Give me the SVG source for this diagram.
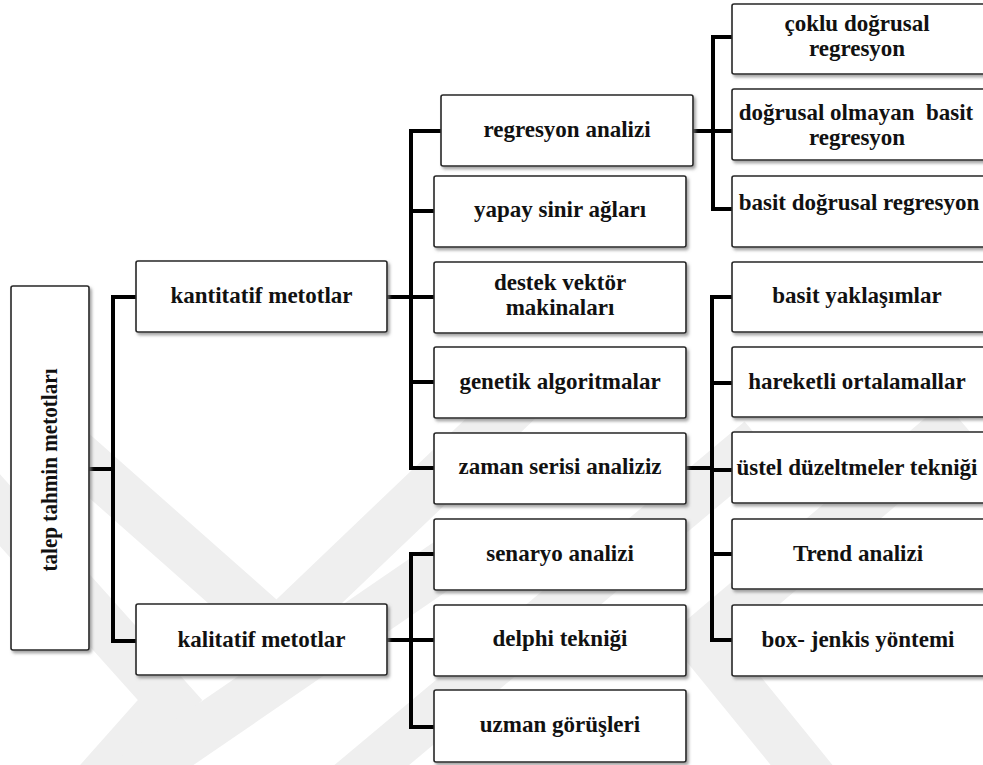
<svg xmlns="http://www.w3.org/2000/svg" width="983" height="765" viewBox="0 0 983 765">
<defs>
<filter id="sh" x="-10%" y="-10%" width="130%" height="140%">
<feDropShadow dx="2" dy="2.5" stdDeviation="1.5" flood-color="#7a7a7a" flood-opacity="0.7"/>
</filter>
<style>
.box{fill:#fff;stroke:#262626;stroke-width:1.6;filter:url(#sh)}
.t{font-family:"Liberation Serif","Times New Roman",serif;font-weight:bold;font-size:23px;fill:#111;text-anchor:middle}
.c{fill:none;stroke:#000;stroke-width:4;stroke-linejoin:miter;stroke-linecap:butt}
.wm{fill:none;stroke:#efefef;stroke-width:48;stroke-linejoin:miter}
</style>
</defs>
<rect width="983" height="765" fill="#fff"/>
<g id="watermark">
<polyline class="wm" points="60,440 277,632 520,400"/>
<polyline class="wm" points="-20,488 170,700 90,790"/>
<polyline class="wm" points="100,800 450,560"/>
<polyline class="wm" points="330,800 760,440"/>
<polyline class="wm" points="960,420 700,640 830,800"/>
</g>
<g id="connectors">
<path class="c" d="M89,469H113M113,297V641M111,297H136M111,641H136"/>
<path class="c" d="M387,297H411M411,129V470M409,131H441M409,211H434M409,297H434M409,382H434M409,468H434"/>
<path class="c" d="M387,640H411M411,552V729M409,554H434M409,640H434M409,727H434"/>
<path class="c" d="M693,131H713M713,35V211M711,37H732M711,131H732M711,209H732"/>
<path class="c" d="M686,468H712M712,295V642M710,297H732M710,383H732M710,470H732M710,554H732M710,640H732"/>
</g>
<g id="n-root"><rect class="box" x="11" y="286" width="78" height="364" rx="2"/><text class="t" x="57" y="470" font-size="18" textLength="203" lengthAdjust="spacingAndGlyphs" transform="rotate(-90 57 470)">talep tahmin metotları</text></g>
<g id="n-kantitatif"><rect class="box" x="136" y="261" width="251" height="71" rx="2"/><text class="t" x="261.5" y="303">kantitatif metotlar</text></g>
<g id="n-kalitatif"><rect class="box" x="136" y="604" width="251" height="71" rx="2"/><text class="t" x="261.5" y="647">kalitatif metotlar</text></g>
<g id="n-regresyon"><rect class="box" x="441" y="95" width="252" height="71" rx="2"/><text class="t" x="567" y="137">regresyon analizi</text></g>
<g id="n-yapay"><rect class="box" x="434" y="176" width="252" height="71" rx="2"/><text class="t" x="560" y="217">yapay sinir ağları</text></g>
<g id="n-destek"><rect class="box" x="434" y="262" width="252" height="71" rx="2"/><text class="t" x="560" y="290">destek vektör</text><text class="t" x="560" y="315">makinaları</text></g>
<g id="n-genetik"><rect class="box" x="434" y="347" width="252" height="71" rx="2"/><text class="t" x="560" y="389">genetik algoritmalar</text></g>
<g id="n-zaman"><rect class="box" x="434" y="433" width="252" height="71" rx="2"/><text class="t" x="560" y="474">zaman serisi analiziz</text></g>
<g id="n-senaryo"><rect class="box" x="434" y="519" width="252" height="71" rx="2"/><text class="t" x="560" y="561">senaryo analizi</text></g>
<g id="n-delphi"><rect class="box" x="434" y="605" width="252" height="71" rx="2"/><text class="t" x="560" y="646">delphi tekniği</text></g>
<g id="n-uzman"><rect class="box" x="434" y="690" width="252" height="72" rx="2"/><text class="t" x="560" y="732">uzman görüşleri</text></g>
<g id="n-coklu"><rect class="box" x="732" y="4" width="256" height="70" rx="2"/><text class="t" x="857" y="31">çoklu doğrusal</text><text class="t" x="857" y="56">regresyon</text></g>
<g id="n-dogrusal-olmayan"><rect class="box" x="732" y="89" width="256" height="71" rx="2"/><text class="t" x="856" y="120" xml:space="preserve">doğrusal olmayan  basit</text><text class="t" x="857" y="145">regresyon</text></g>
<g id="n-basit-dogrusal"><rect class="box" x="732" y="176" width="256" height="71" rx="2"/><text class="t" x="859" y="210">basit doğrusal regresyon</text></g>
<g id="n-basit-yaklasimlar"><rect class="box" x="732" y="262" width="256" height="70" rx="2"/><text class="t" x="857" y="303">basit yaklaşımlar</text></g>
<g id="n-hareketli"><rect class="box" x="732" y="347" width="256" height="70" rx="2"/><text class="t" x="857" y="389">hareketli ortalamallar</text></g>
<g id="n-ustel"><rect class="box" x="732" y="432" width="256" height="71" rx="2"/><text class="t" x="857" y="475">üstel düzeltmeler tekniği</text></g>
<g id="n-trend"><rect class="box" x="732" y="519" width="256" height="70" rx="2"/><text class="t" x="858" y="561">Trend analizi</text></g>
<g id="n-boxjenkis"><rect class="box" x="732" y="605" width="256" height="71" rx="2"/><text class="t" x="858" y="647">box- jenkis yöntemi</text></g>
</svg>
